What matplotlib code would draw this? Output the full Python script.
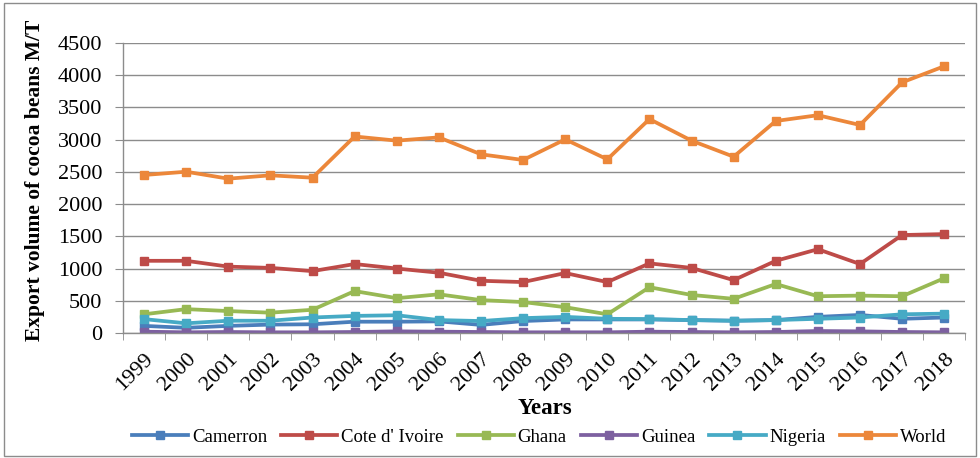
import matplotlib
matplotlib.use("Agg")
import matplotlib.pyplot as plt
from matplotlib.ticker import FixedLocator, MultipleLocator
from matplotlib.patches import Rectangle

years = [str(y) for y in range(1999, 2019)]
cameroon = [110, 80, 110, 130, 135, 175, 175, 180, 125, 185, 210, 210, 210, 200, 190, 200, 250, 280, 220, 240]
cote = [1120, 1120, 1030, 1010, 960, 1070, 1000, 935, 810, 790, 930, 790, 1080, 1010, 820, 1120, 1300, 1070, 1520, 1535]
ghana = [290, 370, 340, 315, 360, 650, 540, 600, 510, 480, 400, 290, 710, 590, 530, 760, 570, 580, 570, 850]
guinea = [20, 10, 15, 10, 10, 15, 25, 20, 15, 10, 10, 10, 20, 15, 10, 15, 30, 25, 15, 10]
nigeria = [215, 150, 190, 190, 240, 265, 275, 200, 185, 230, 250, 220, 215, 200, 190, 200, 220, 240, 290, 300]
world = [2452, 2503, 2395, 2447, 2410, 3050, 2985, 3036, 2773, 2685, 3005, 2695, 3320, 2985, 2736, 3290, 3380, 3228, 3890, 4140]

series = [
    ("Camerron", cameroon, "#4A7EBB"),
    ("Cote d' Ivoire", cote, "#BE4B48"),
    ("Ghana", ghana, "#98B954"),
    ("Guinea", guinea, "#7D60A0"),
    ("Nigeria", nigeria, "#46AAC5"),
    ("World", world, "#EC873A"),
]

plt.rcParams['font.family'] = ['Liberation Serif', 'DejaVu Serif']

fig = plt.figure(figsize=(9.8, 4.58), dpi=100)
ax = fig.add_axes([0.1255, 0.273, 0.8595, 0.633])

x = list(range(len(years)))
for name, vals, col in series:
    ax.plot(x, vals, color=col, lw=2.7, marker='s', ms=5.5, label=name)

ax.set_xlim(-0.5, len(years) - 0.5)
ax.set_ylim(0, 4500)
ax.yaxis.set_major_locator(MultipleLocator(500))
ax.grid(axis='y', color='#8c8c8c', lw=1)
ax.set_axisbelow(True)
for s in ['top', 'right']:
    ax.spines[s].set_visible(False)
for s in ['left', 'bottom']:
    ax.spines[s].set_color('#8c8c8c')
    ax.spines[s].set_linewidth(1)

ax.set_xticks(x)
ax.set_xticklabels(years, rotation=45, ha='right', rotation_mode='anchor', fontsize=16)
ax.tick_params(axis='x', which='major', length=0, pad=12)
ax.xaxis.set_minor_locator(FixedLocator([i - 0.5 for i in range(len(years) + 1)]))
ax.tick_params(axis='x', which='minor', length=5, color='#8c8c8c', direction='out')
ax.tick_params(axis='y', length=6, color='#8c8c8c', labelsize=16, pad=9)

ax.set_xlabel("Years", fontsize=16.5, fontweight='bold', va='center')
ax.xaxis.set_label_coords(0.501, -0.259)
ax.set_ylabel("Export volume of cocoa beans M/T", fontsize=15.5, fontweight='bold', va='center')
ax.yaxis.set_label_coords(-0.1045, 0.525)

ax.legend(loc='center', bbox_to_anchor=(539 / 980, 1 - 437 / 458), bbox_transform=fig.transFigure,
          ncol=6, frameon=False, fontsize=13.5, handlelength=3.0, handletextpad=0.2,
          columnspacing=0.75, borderaxespad=0, borderpad=0)

fig.patches.append(Rectangle((0.004, 0.004), 0.992, 0.99, transform=fig.transFigure,
                             fill=False, edgecolor='#8c8c8c', lw=1))

fig.savefig("out.png", dpi=100)
